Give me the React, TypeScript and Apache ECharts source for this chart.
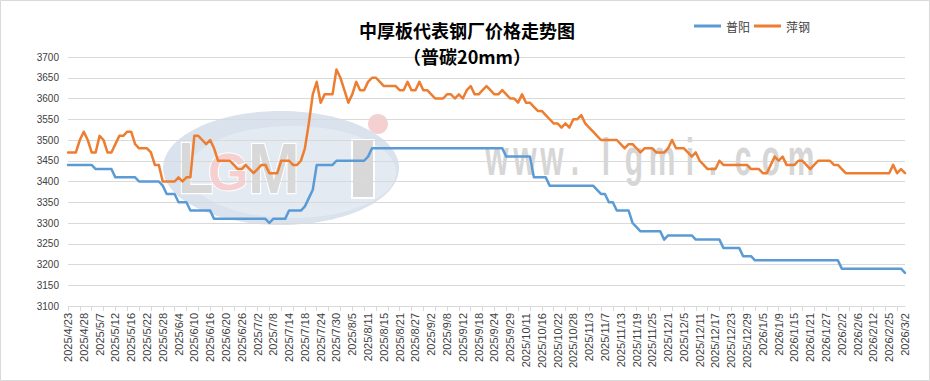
import React, { useEffect, useRef } from "react";
import * as echarts from "echarts";

const categories: string[] = [
  "2025/4/23", "2025/4/24", "2025/4/25", "2025/4/27",
  "2025/4/28", "2025/4/29", "2025/4/30", "2025/5/6",
  "2025/5/7", "2025/5/8", "2025/5/9", "2025/5/10",
  "2025/5/12", "2025/5/13", "2025/5/14", "2025/5/15",
  "2025/5/16", "2025/5/19", "2025/5/20", "2025/5/21",
  "2025/5/22", "2025/5/23", "2025/5/26", "2025/5/27",
  "2025/5/28", "2025/5/29", "2025/5/30", "2025/6/3",
  "2025/6/4", "2025/6/5", "2025/6/6", "2025/6/9",
  "2025/6/10", "2025/6/11", "2025/6/12", "2025/6/13",
  "2025/6/16", "2025/6/17", "2025/6/18", "2025/6/19",
  "2025/6/20", "2025/6/23", "2025/6/24", "2025/6/25",
  "2025/6/26", "2025/6/27", "2025/6/30", "2025/7/1",
  "2025/7/2", "2025/7/3", "2025/7/4", "2025/7/7",
  "2025/7/8", "2025/7/9", "2025/7/10", "2025/7/11",
  "2025/7/14", "2025/7/15", "2025/7/16", "2025/7/17",
  "2025/7/18", "2025/7/21", "2025/7/22", "2025/7/23",
  "2025/7/24", "2025/7/25", "2025/7/28", "2025/7/29",
  "2025/7/30", "2025/7/31", "2025/8/1", "2025/8/4",
  "2025/8/5", "2025/8/6", "2025/8/7", "2025/8/8",
  "2025/8/11", "2025/8/12", "2025/8/13", "2025/8/14",
  "2025/8/15", "2025/8/18", "2025/8/19", "2025/8/20",
  "2025/8/21", "2025/8/22", "2025/8/25", "2025/8/26",
  "2025/8/27", "2025/8/28", "2025/8/29", "2025/9/1",
  "2025/9/2", "2025/9/3", "2025/9/4", "2025/9/5",
  "2025/9/8", "2025/9/9", "2025/9/10", "2025/9/11",
  "2025/9/12", "2025/9/15", "2025/9/16", "2025/9/17",
  "2025/9/18", "2025/9/19", "2025/9/22", "2025/9/23",
  "2025/9/24", "2025/9/25", "2025/9/26", "2025/9/28",
  "2025/9/29", "2025/9/30", "2025/10/9", "2025/10/10",
  "2025/10/11", "2025/10/13", "2025/10/14", "2025/10/15",
  "2025/10/16", "2025/10/17", "2025/10/20", "2025/10/21",
  "2025/10/22", "2025/10/23", "2025/10/24", "2025/10/27",
  "2025/10/28", "2025/10/29", "2025/10/30", "2025/10/31",
  "2025/11/3", "2025/11/4", "2025/11/5", "2025/11/6",
  "2025/11/7", "2025/11/10", "2025/11/11", "2025/11/12",
  "2025/11/13", "2025/11/14", "2025/11/17", "2025/11/18",
  "2025/11/19", "2025/11/20", "2025/11/21", "2025/11/24",
  "2025/11/25", "2025/11/26", "2025/11/27", "2025/11/28",
  "2025/12/1", "2025/12/2", "2025/12/3", "2025/12/4",
  "2025/12/5", "2025/12/8", "2025/12/9", "2025/12/10",
  "2025/12/11", "2025/12/12", "2025/12/15", "2025/12/16",
  "2025/12/17", "2025/12/18", "2025/12/19", "2025/12/22",
  "2025/12/23", "2025/12/24", "2025/12/25", "2025/12/26",
  "2025/12/29", "2025/12/30", "2025/12/31", "2026/1/4",
  "2026/1/5", "2026/1/6", "2026/1/7", "2026/1/8",
  "2026/1/9", "2026/1/12", "2026/1/13", "2026/1/14",
  "2026/1/15", "2026/1/16", "2026/1/19", "2026/1/20",
  "2026/1/21", "2026/1/22", "2026/1/23", "2026/1/26",
  "2026/1/27", "2026/1/28", "2026/1/29", "2026/1/30",
  "2026/2/2", "2026/2/3", "2026/2/4", "2026/2/5",
  "2026/2/6", "2026/2/9", "2026/2/10", "2026/2/11",
  "2026/2/12", "2026/2/13", "2026/2/14", "2026/2/24",
  "2026/2/25", "2026/2/26", "2026/2/27", "2026/2/28",
  "2026/3/2",
];

// 普阳
const puyang: number[] = [
  3440, 3440, 3440, 3440, 3440, 3440, 3440, 3430, 3430, 3430,
  3430, 3430, 3410, 3410, 3410, 3410, 3410, 3410, 3400, 3400,
  3400, 3400, 3400, 3400, 3390, 3370, 3370, 3370, 3350, 3350,
  3350, 3330, 3330, 3330, 3330, 3330, 3330, 3310, 3310, 3310,
  3310, 3310, 3310, 3310, 3310, 3310, 3310, 3310, 3310, 3310,
  3310, 3300, 3310, 3310, 3310, 3310, 3330, 3330, 3330, 3330,
  3340, 3360, 3380, 3440, 3440, 3440, 3440, 3440, 3450, 3450,
  3450, 3450, 3450, 3450, 3450, 3450, 3460, 3480, 3480, 3480,
  3480, 3480, 3480, 3480, 3480, 3480, 3480, 3480, 3480, 3480,
  3480, 3480, 3480, 3480, 3480, 3480, 3480, 3480, 3480, 3480,
  3480, 3480, 3480, 3480, 3480, 3480, 3480, 3480, 3480, 3480,
  3480, 3460, 3460, 3460, 3460, 3460, 3460, 3460, 3410, 3410,
  3410, 3410, 3390, 3390, 3390, 3390, 3390, 3390, 3390, 3390,
  3390, 3390, 3390, 3390, 3380, 3370, 3370, 3350, 3350, 3330,
  3330, 3330, 3330, 3300, 3290, 3280, 3280, 3280, 3280, 3280,
  3280, 3260, 3270, 3270, 3270, 3270, 3270, 3270, 3270, 3260,
  3260, 3260, 3260, 3260, 3260, 3260, 3240, 3240, 3240, 3240,
  3240, 3220, 3220, 3220, 3210, 3210, 3210, 3210, 3210, 3210,
  3210, 3210, 3210, 3210, 3210, 3210, 3210, 3210, 3210, 3210,
  3210, 3210, 3210, 3210, 3210, 3210, 3190, 3190, 3190, 3190,
  3190, 3190, 3190, 3190, 3190, 3190, 3190, 3190, 3190, 3190,
  3190, 3190, 3180,
];

// 萍钢
const pinggang: number[] = [
  3470, 3470, 3470, 3500, 3520, 3500, 3470, 3470, 3510, 3500,
  3470, 3470, 3490, 3510, 3510, 3520, 3520, 3490, 3480, 3480,
  3480, 3470, 3440, 3440, 3400, 3400, 3400, 3400, 3410, 3400,
  3410, 3410, 3510, 3510, 3500, 3490, 3500, 3480, 3450, 3450,
  3450, 3450, 3440, 3430, 3430, 3440, 3430, 3420, 3430, 3440,
  3440, 3420, 3420, 3420, 3450, 3450, 3450, 3440, 3440, 3450,
  3480, 3540, 3610, 3640, 3590, 3610, 3610, 3610, 3670, 3650,
  3620, 3590, 3610, 3640, 3620, 3620, 3640, 3650, 3650, 3640,
  3630, 3630, 3630, 3630, 3620, 3620, 3640, 3620, 3620, 3640,
  3620, 3620, 3610, 3600, 3600, 3600, 3610, 3610, 3600, 3610,
  3600, 3620, 3630, 3610, 3610, 3620, 3630, 3620, 3610, 3610,
  3620, 3610, 3600, 3600, 3590, 3610, 3590, 3590, 3580, 3570,
  3570, 3560, 3550, 3540, 3540, 3530, 3540, 3530, 3550, 3550,
  3560, 3540, 3530, 3520, 3510, 3500, 3500, 3500, 3500, 3500,
  3490, 3480, 3490, 3490, 3480, 3470, 3480, 3480, 3480, 3470,
  3470, 3470, 3480, 3500, 3480, 3480, 3480, 3470, 3460, 3470,
  3450, 3440, 3430, 3430, 3430, 3450, 3440, 3440, 3440, 3440,
  3440, 3440, 3440, 3430, 3430, 3430, 3420, 3420, 3440, 3460,
  3450, 3460, 3440, 3440, 3440, 3450, 3450, 3440, 3430, 3440,
  3450, 3450, 3450, 3450, 3440, 3440, 3430, 3420, 3420, 3420,
  3420, 3420, 3420, 3420, 3420, 3420, 3420, 3420, 3420, 3440,
  3420, 3430, 3420,
];

const seriesNames = ["普阳", "萍钢"];
const seriesColors = ["#5b9bd5", "#ed7d31"];
const yMin = 3100;
const yMax = 3700;
const yStep = 50;

const titleText = "中厚板代表钢厂价格走势图";
const subtitleText = "（普碳20mm）";
const watermarkChars = ["w", "w", "w", ".", "l", "g", "m", "i", ".", "c", "o", "m"];
const watermarkX = [497, 525, 552, 575, 606, 634, 662, 690, 713, 743, 771, 801];

const CJK = "'Noto Sans CJK SC', 'Liberation Sans', sans-serif";
const LATIN = "'Liberation Sans', 'Noto Sans CJK SC', sans-serif";

export default function App() {
  const ref = useRef<HTMLDivElement | null>(null);

  useEffect(() => {
    document.body.style.margin = "0";
    if (!ref.current) return;
    const chart = echarts.init(ref.current, undefined, { renderer: "svg" });

    const wmGray = "#d8d8d8";
    const wmPink = "#f6d0d0";
    const graphic: any[] = [
      // logo watermark
      { type: "ellipse", z: -10, silent: true, shape: { cx: 281, cy: 168, rx: 118, ry: 57 }, style: { fill: "#d9e2ed" } },
      { type: "ellipse", z: -10, silent: true, shape: { cx: 292, cy: 172, rx: 104, ry: 46 }, style: { fill: "#e4eaf2" } },
      { type: "text", z: -9, silent: true, x: 178, y: 168, scaleY: 1.25, style: { text: "L", fontSize: 58, fontWeight: "bold", fontFamily: LATIN, fill: wmGray, stroke: "#ffffff", lineWidth: 2, align: "left", verticalAlign: "middle" } },
      { type: "text", z: -9, silent: true, x: 208, y: 172, style: { text: "G", fontSize: 52, fontWeight: "bold", fontFamily: LATIN, fill: wmPink, stroke: "#ffffff", lineWidth: 2, align: "left", verticalAlign: "middle" } },
      { type: "text", z: -9, silent: true, x: 248, y: 168, scaleY: 1.15, style: { text: "M", fontSize: 62, fontWeight: "bold", fontFamily: LATIN, fill: wmGray, stroke: "#ffffff", lineWidth: 2, align: "left", verticalAlign: "middle" } },
      { type: "rect", z: -9, silent: true, shape: { x: 352, y: 140, width: 22, height: 58 }, style: { fill: wmGray, stroke: "#ffffff", lineWidth: 2 } },
      { type: "circle", z: -9, silent: true, shape: { cx: 378, cy: 124, r: 10 }, style: { fill: wmPink } },
      // border
      { type: "rect", z: 100, silent: true, shape: { x: 0.5, y: 0.5, width: 929, height: 380 }, style: { fill: "none", stroke: "#d9d9d9", lineWidth: 1 } },
    ];
    watermarkChars.forEach((ch, i) => {
      graphic.push({
        type: "text",
        z: -9,
        silent: true,
        x: watermarkX[i],
        y: 183,
        scaleY: 1.75,
        style: {
          text: ch,
          fontSize: 30,
          fontWeight: "bold",
          fontFamily: LATIN,
          fill: "#d6d6d6",
          align: "center",
          verticalAlign: "bottom",
        },
      });
    });

    const option: any = {
      animation: false,
      backgroundColor: "#ffffff",
      textStyle: { fontFamily: LATIN },
      title: {
        text: titleText,
        subtext: subtitleText,
        left: 467,
        textAlign: "center",
        top: 20,
        itemGap: 6,
        padding: 0,
        textStyle: { fontSize: 18, fontWeight: "bold", color: "#000000", lineHeight: 20, fontFamily: CJK },
        subtextStyle: { fontSize: 18, fontWeight: "bold", color: "#000000", lineHeight: 20, fontFamily: CJK },
      },
      legend: {
        left: 694,
        top: 20,
        padding: 0,
        itemGap: 4,
        itemWidth: 27,
        itemHeight: 3,
        icon: "rect",
        data: seriesNames,
        textStyle: { fontSize: 12, color: "#404040", fontFamily: CJK },
      },
      grid: { left: 68, right: 25, top: 57, bottom: 75 },
      xAxis: {
        type: "category",
        data: categories,
        boundaryGap: false,
        axisLine: { lineStyle: { color: "#d9d9d9", width: 1 } },
        axisTick: { show: true, interval: 2, length: 5, lineStyle: { color: "#d9d9d9" } },
        axisLabel: { interval: 3, rotate: 90, fontSize: 11, color: "#404040", margin: 7, fontFamily: LATIN },
        splitLine: { show: false },
      },
      yAxis: {
        type: "value",
        min: yMin,
        max: yMax,
        interval: yStep,
        axisLine: { show: false },
        axisTick: { show: false },
        splitLine: { lineStyle: { color: "#d9d9d9", width: 1 } },
        axisLabel: {
          fontSize: 10,
          color: "#404040",
          margin: 9,
          fontFamily: LATIN,
          formatter: (v: number) => String(v),
        },
      },
      series: [
        {
          name: seriesNames[0],
          type: "line",
          data: puyang,
          symbol: "none",
          showSymbol: false,
          itemStyle: { color: seriesColors[0] },
          lineStyle: { color: seriesColors[0], width: 2.5, join: "round", cap: "round" },
        },
        {
          name: seriesNames[1],
          type: "line",
          data: pinggang,
          symbol: "none",
          showSymbol: false,
          itemStyle: { color: seriesColors[1] },
          lineStyle: { color: seriesColors[1], width: 2.5, join: "round", cap: "round" },
        },
      ],
      graphic,
    };

    chart.setOption(option);
    return () => {
      chart.dispose();
    };
  }, []);

  return <div ref={ref} style={{ width: 930, height: 381 }} />;
}
